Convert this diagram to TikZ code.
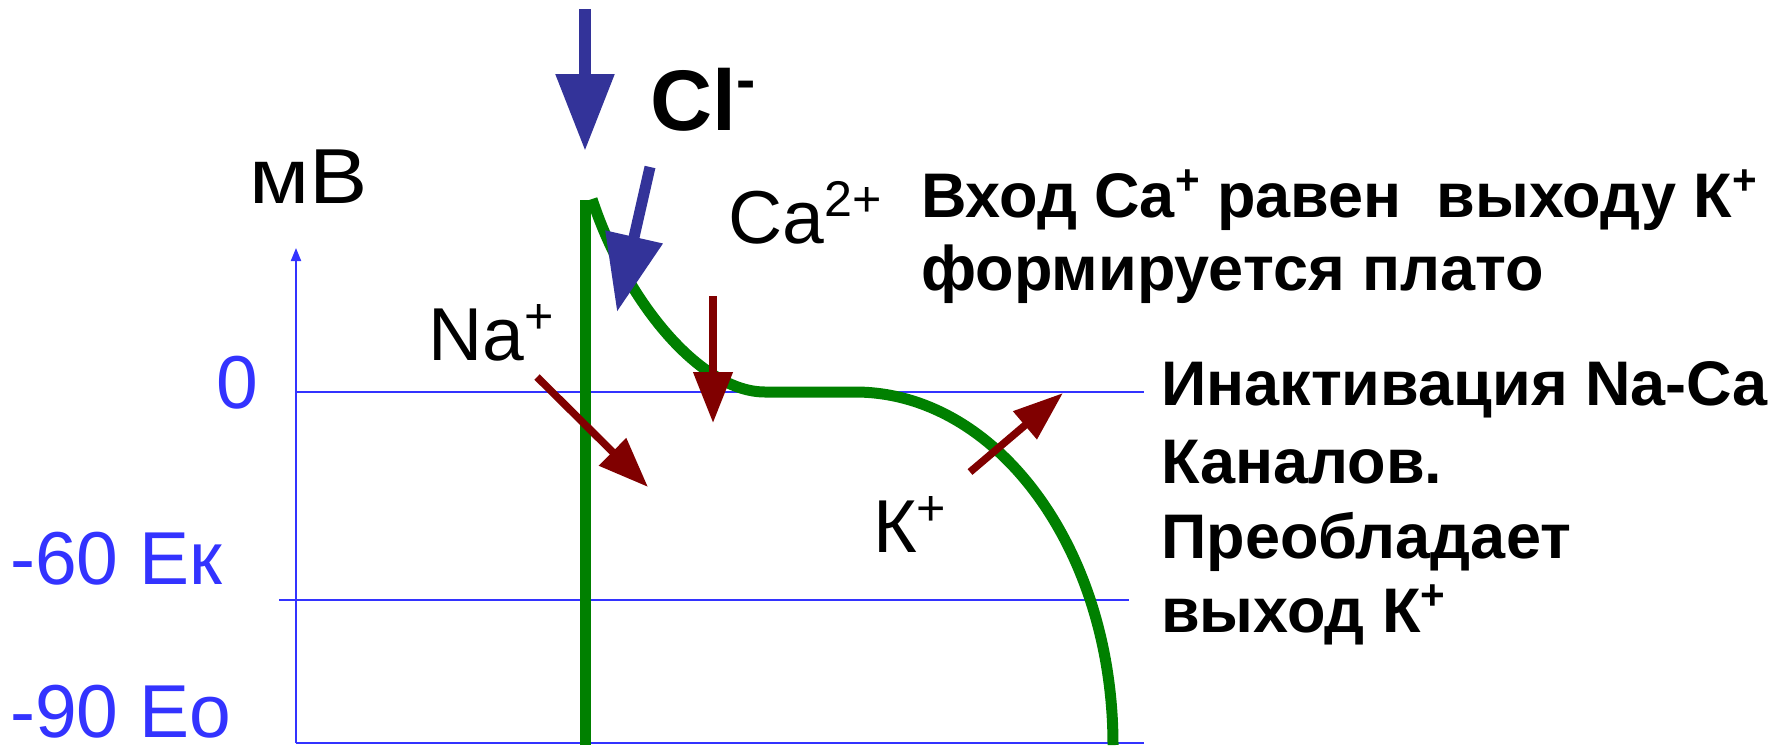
\documentclass[tikz,border=0pt]{standalone}
\usepackage{fontspec}
\setmainfont{Liberation Sans}
\usetikzlibrary{arrows.meta}
\definecolor{axisblue}{HTML}{3333FF}
\definecolor{arrblue}{HTML}{333399}
\definecolor{ionred}{HTML}{800000}
\definecolor{curvegreen}{HTML}{008000}
\newcommand{\supr}[1]{\raisebox{0.36em}{\scalebox{0.67}{#1}}}
\begin{document}
\begin{tikzpicture}[x=1pt,y=-1pt,
  lbl/.style={inner sep=0pt, anchor=base west, font=\fontsize{75}{90}\selectfont},
  bluelbl/.style={lbl, text=axisblue},
  boldtop/.style={inner sep=0pt, anchor=base west, font=\fontsize{63}{76}\bfseries\selectfont},
  boldright/.style={inner sep=0pt, anchor=base west, font=\fontsize{63}{76}\bfseries\selectfont},
  gridline/.style={draw=axisblue, line width=2pt},
  blueflow/.style={draw=arrblue, line width=12pt, -{Triangle[length=77pt,width=56pt]}},
  redflow/.style={draw=ionred, line width=7.5pt, -{Triangle[length=50pt,width=37pt]}},
  potential/.style={draw=curvegreen, line width=11pt}
]
\useasboundingbox (0,0) rectangle (1791,745);

% axis and grid lines
\coordinate (axB) at (296,743);
\coordinate (axT) at (296,248);
\draw[draw=axisblue, line width=2pt, -{Triangle[length=13pt,width=10pt]}] (axB) -- (axT);
\coordinate (z0) at (296,392);  \coordinate (z1) at (1144,392);
\coordinate (k0) at (279,600);  \coordinate (k1) at (1129,600);
\coordinate (b0) at (296,743);  \coordinate (b1) at (1144,743);
\draw[gridline] (z0) -- (z1);
\draw[gridline] (k0) -- (k1);
\draw[gridline] (b0) -- (b1);

% labels on axis
\node[lbl, font=\fontsize{78}{90}\selectfont] (mv) at (249,203) {\scalebox{1.12}[1]{мВ}};
\node[bluelbl] (zero) at (216,408) {0};
\node[bluelbl] (ek) at (10,584) {-60 Ек};
\node[bluelbl, text depth=0pt] (eo) at (10,737) {-90 Ео};

% action potential
\coordinate (vb) at (585,745);
\coordinate (vt) at (585,200);
\draw[potential] (vb) -- (vt);
\coordinate (c0) at (592,199);
\coordinate (c1) at (765,392);
\coordinate (c2) at (855,392);
\draw[potential] (c0) .. controls (625,300) and (700,392) .. (c1) -- (c2)
  arc[start angle=-90, end angle=0, x radius=258, y radius=353];

% blue arrows (Cl-)
\coordinate (ba0) at (585,9);   \coordinate (ba1) at (585,151);
\draw[blueflow] (ba0) -- (ba1);
\coordinate (bb0) at (650,167); \coordinate (bb1) at (617,312);
\draw[blueflow, line width=11pt] (bb0) -- (bb1);

% red arrows
\coordinate (na0) at (537,377); \coordinate (na1) at (648,487);
\draw[redflow] (na0) -- (na1);
\coordinate (ca0) at (713,296); \coordinate (ca1) at (713,423);
\draw[redflow, -{Triangle[length=51pt,width=38pt]}] (ca0) -- (ca1);
\coordinate (kk0) at (970,472); \coordinate (kk1) at (1063,393);
\draw[redflow, -{Triangle[length=50pt,width=35pt]}] (kk0) -- (kk1);

% ion labels
\node[inner sep=0pt, anchor=base west, font=\fontsize{86}{100}\bfseries\selectfont] (cl) at (650,130) {Cl\supr{-}};
\node[lbl] (na) at (428,360) {Na\supr{+}};
\node[lbl] (ca) at (728,243) {Ca\supr{2+}};
\node[lbl] (kp) at (873,552) {К\supr{+}};

% explanatory texts
\node[boldtop] (t1) at (921,217) {Вход Ca\supr{+} равен\ \ выходу К\supr{+}};
\node[boldtop] (t2) at (921,290) {формируется плато};
\node[boldright] (r1) at (1161,405) {Инактивация Na-Ca};
\node[boldright] (r2) at (1161,483) {Каналов.};
\node[boldright] (r3) at (1161,558) {Преобладает};
\node[boldright] (r4) at (1161,632) {выход К\supr{+}};
\end{tikzpicture}
\end{document}
